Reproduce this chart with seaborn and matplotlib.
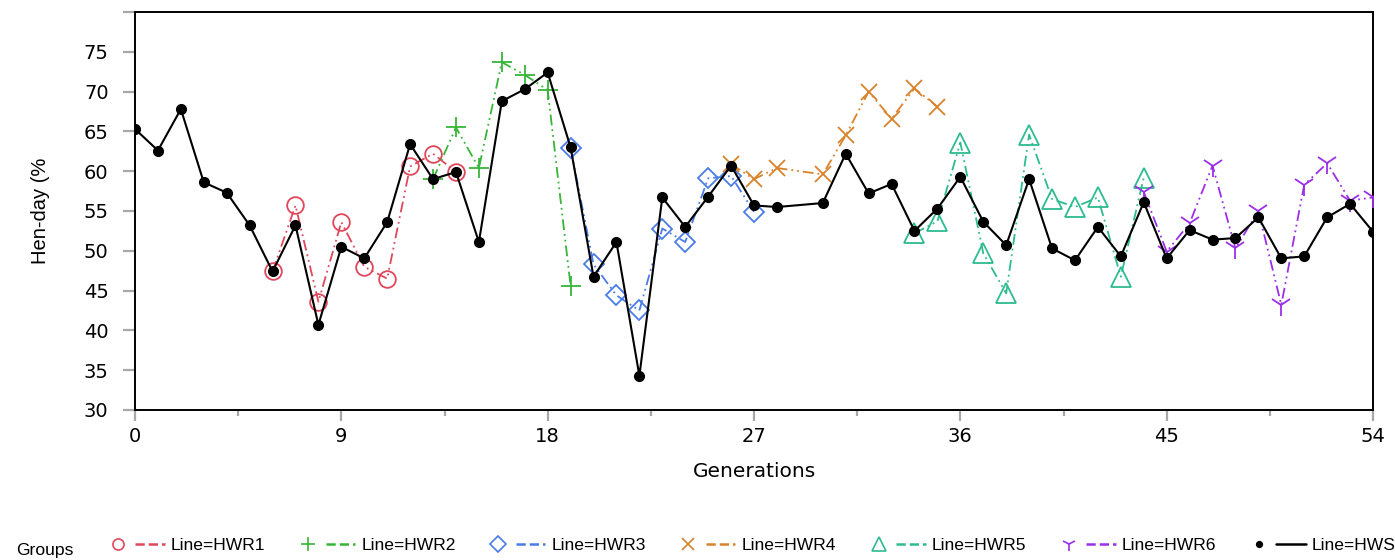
import matplotlib
matplotlib.use("Agg")
import matplotlib.pyplot as plt
from matplotlib.lines import Line2D
from matplotlib.legend_handler import HandlerBase
import seaborn as sns
import numpy as np

# ---------------- data ----------------
gen_hws = list(range(0, 29)) + list(range(30, 55))
val_hws = [65.3, 62.6, 67.8, 58.6, 57.3, 53.2, 47.4, 53.2, 40.7, 50.5,
           49.05, 53.6, 63.4, 59.0, 59.9, 51.1, 68.8, 70.3, 72.4, 63.0,
           46.75, 51.1, 34.3, 56.7, 53.0, 56.8, 60.7, 55.7, 55.5,
           56.0, 62.2, 57.2, 58.4, 52.5, 55.3, 59.3, 53.65, 50.7, 59.0,
           50.3, 48.8, 53.0, 49.3, 56.1, 49.05, 52.6, 51.4, 51.6, 54.2,
           49.05, 49.3, 54.2, 55.9, 52.4]

gen_hwr1 = [6, 7, 8, 9, 10, 11, 12, 13, 14]
val_hwr1 = [47.4, 55.7, 43.6, 53.6, 48.0, 46.5, 60.6, 62.2, 59.9]

gen_hwr2 = [13, 14, 15, 16, 17, 18, 19]
val_hwr2 = [59.0, 65.5, 60.4, 73.7, 72.1, 70.2, 45.6]

gen_hwr3 = [19, 20, 21, 22, 23, 24, 25, 26, 27]
val_hwr3 = [62.9, 48.3, 44.4, 42.5, 52.8, 51.1, 59.1, 59.4, 54.9]

gen_hwr4 = [26, 27, 28, 30, 31, 32, 33, 34, 35]
val_hwr4 = [60.9, 59.0, 60.4, 59.6, 64.5, 70.0, 66.6, 70.4, 68.1]

gen_hwr5 = [34, 35, 36, 37, 38, 39, 40, 41, 42, 43, 44]
val_hwr5 = [52.2, 53.7, 63.6, 49.7, 44.65, 64.6, 56.5, 55.5, 56.7, 46.75, 59.2]

gen_hwr6 = [44, 45, 46, 47, 48, 49, 50, 51, 52, 53, 54]
val_hwr6 = [57.4, 49.9, 53.45, 60.7, 50.3, 55.0, 43.2, 58.3, 61.0, 56.3, 56.7]

group_labels = ["Line=HWR1", "Line=HWR2", "Line=HWR3", "Line=HWR4",
                "Line=HWR5", "Line=HWR6", "Line=HWS"]
x_ticks = [0, 9, 18, 27, 36, 45, 54]
y_ticks = [30, 35, 40, 45, 50, 55, 60, 65, 70, 75, 80]
y_ticklabels = ["30", "35", "40", "45", "50", "55", "60", "65", "70", "75", ""]

# ---------------- style ----------------
sns.set_style("ticks")
plt.rcParams["font.family"] = ["DejaVu Sans"]
plt.rcParams["text.color"] = "black"
plt.rcParams["axes.labelcolor"] = "black"
plt.rcParams["xtick.color"] = "black"
plt.rcParams["ytick.color"] = "black"

colors = ["#E0475B", "#38B538", "#4A7CE6", "#D9822B", "#2DBB8F", "#9B2FE8", "black"]
markers = ["o", "+", "D", "x", "^", "1", "o"]
msizes = [12, 14, 10, 11, 14, 16, 7]
dashdotdot = (0, (6, 2.2, 1, 2.2, 1, 2.2))

fig = plt.figure(figsize=(13.95, 5.6), dpi=100)
ax = fig.add_axes([135 / 1395, 1 - 410 / 560, 1238 / 1395, 398 / 560])

series = [(gen_hwr1, val_hwr1), (gen_hwr2, val_hwr2), (gen_hwr3, val_hwr3),
          (gen_hwr4, val_hwr4), (gen_hwr5, val_hwr5), (gen_hwr6, val_hwr6),
          (gen_hws, val_hws)]

for i, (gx, gy) in enumerate(series):
    is_hws = i == 6
    sns.lineplot(
        x=gx, y=gy, ax=ax, color=colors[i], marker=markers[i],
        markersize=msizes[i],
        markerfacecolor=colors[i] if is_hws else "none",
        markeredgecolor=colors[i],
        markeredgewidth=1.0 if is_hws else 1.3,
        linestyle="-" if is_hws else dashdotdot,
        linewidth=1.5 if is_hws else 1.3,
        zorder=5 if is_hws else 3,
    )

ax.set_xlim(0, 54)
ax.set_ylim(30, 80)
ax.set_xticks(x_ticks)
ax.set_xticks([4.5, 13.5, 22.5, 31.5, 40.5, 49.5], minor=True)
ax.set_yticks(y_ticks)
ax.set_yticklabels(y_ticklabels)

for s in ax.spines.values():
    s.set_visible(True)
    s.set_color("black")
    s.set_linewidth(1.4)

ax.tick_params(axis="both", which="major", direction="out", color="#A8A8A8",
               width=1.6, labelsize=14, labelcolor="black",
               bottom=True, left=True, top=False, right=False)
ax.tick_params(axis="x", which="major", length=8, pad=4)
ax.tick_params(axis="y", which="major", length=9, pad=10)
ax.tick_params(axis="x", which="minor", direction="out", length=4,
               width=1.6, color="#A8A8A8", bottom=True)
ax.tick_params(axis="y", which="minor", left=False)

ax.set_xlabel("Generations", fontsize=14.5)
ax.xaxis.set_label_coords(0.5, -0.131)
ax.set_ylabel("Hen-day (%", fontsize=14.5, family=["Liberation Sans"])
ax.yaxis.set_label_coords(-0.069, 0.5)


# ---------------- legend ----------------
class MarkerThenLine(HandlerBase):
    def create_artists(self, legend, orig_handle, xdescent, ydescent,
                       width, height, fontsize, trans):
        y = height / 2 - ydescent
        x0 = -xdescent
        mk = Line2D([x0 + width * 0.145], [y], marker=orig_handle.get_marker(),
                    markersize=orig_handle.get_markersize(),
                    markerfacecolor=orig_handle.get_markerfacecolor(),
                    markeredgecolor=orig_handle.get_markeredgecolor(),
                    markeredgewidth=orig_handle.get_markeredgewidth(),
                    linestyle="none", transform=trans)
        ln = Line2D([x0 + width * 0.46, x0 + width], [y, y],
                    color=orig_handle.get_color(),
                    linestyle=orig_handle.get_linestyle(),
                    linewidth=orig_handle.get_linewidth(), transform=trans)
        return [mk, ln]


leg_handles = []
leg_msizes = [8, 10, 8, 8, 10, 10, 4]
for i in range(7):
    is_hws = i == 6
    h = Line2D([], [], color=colors[i], marker=markers[i],
               markersize=leg_msizes[i],
               markerfacecolor=colors[i] if is_hws else "none",
               markeredgecolor=colors[i], markeredgewidth=1.2,
               linestyle="-" if is_hws else (0, (4, 2, 1, 2, 1, 2)),
               linewidth=1.8)
    leg_handles.append(h)

fs_leg = 12.6
em = fs_leg * 100 / 72
fig.legend(leg_handles, group_labels, loc="center left",
           bbox_to_anchor=(110 / 1395, 1 - 545 / 560), ncol=7, frameon=False,
           borderpad=0, borderaxespad=0, handlelength=55 / em,
           handletextpad=6 / em, columnspacing=(189.7 - 55 - 6 - 94) / em,
           prop={"family": "Liberation Sans", "size": fs_leg},
           handler_map={Line2D: MarkerThenLine()})

fig.text(16 / 1395, 1 - 551 / 560, "Groups", ha="left", va="center",
         fontsize=fs_leg, family="Liberation Sans")

fig.savefig("out.png", dpi=100)
